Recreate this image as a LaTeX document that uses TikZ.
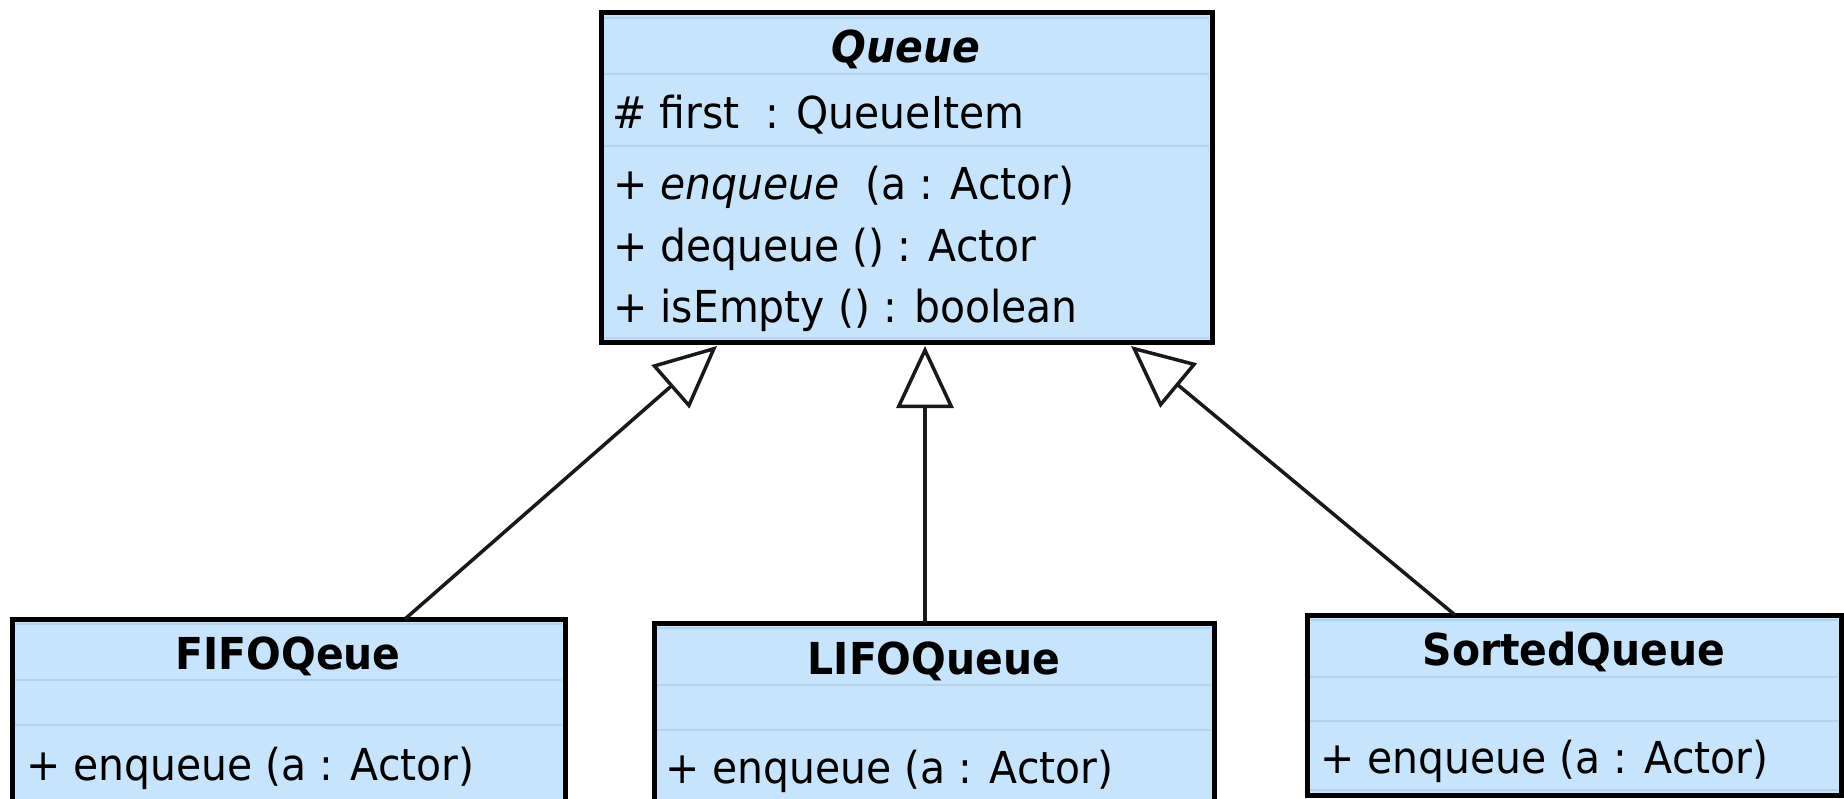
\documentclass[tikz,border=0pt]{standalone}
\usepackage{fontspec}
\setmainfont{DejaVu Sans}[FakeStretch=0.93]
\usetikzlibrary{arrows.meta,calc}
\definecolor{boxfill}{RGB}{200,228,252}
\definecolor{sepline}{RGB}{180,210,238}
\definecolor{linkcol}{RGB}{25,25,25}
\begin{document}
\begin{tikzpicture}[x=1pt,y=-1pt,
  umlbox/.style={draw=black, line width=5pt, fill=boxfill, inner sep=0pt, outer sep=0pt, anchor=north west},
  sepl/.style={draw=sepline, line width=2.5pt},
  classtitle/.style={font=\fontsize{44}{50}\selectfont\bfseries, anchor=base, inner sep=0pt},
  member/.style={font=\fontsize{44}{50}\selectfont, anchor=base west, inner sep=0pt},
  inherit/.style={draw=linkcol, line width=3.5pt, line join=miter,
    -{Triangle[length=62pt,width=57pt,fill=white,line width=3.5pt]}}
]
\useasboundingbox (0,0) rectangle (1844,799);
\clip (0,0) rectangle (1844,799);
\fill[white] (0,0) rectangle (1844,799);

% ---------- Queue ----------
\node[umlbox, minimum width=611pt, minimum height=330pt] (queue) at (601,13) {};
\draw[sepl] (604,18) -- (1209,18) (604,338) -- (1209,338);
\draw[sepl] (604,74) -- (1209,74);
\draw[sepl] (604,146) -- (1209,146);
\node[classtitle, font=\fontsize{44}{50}\selectfont\bfseries\itshape] (qname) at (906,63) {Queue};
\node[member] (qattr) at (612,129) {\# first~~: QueueItem};
\node[member] (qm1) at (613,200) {+ \textit{enqueue}~~(a : Actor)};
\node[member] (qm2) at (613,262) {+ dequeue () : Actor};
\node[member] (qm3) at (613,323) {+ isEmpty () : boolean};

% ---------- FIFOQeue ----------
\node[umlbox, minimum width=553pt, minimum height=200pt] (fifo) at (12,619) {};
\draw[sepl] (15,624) -- (562,624);
\draw[sepl] (15,680) -- (562,680);
\draw[sepl] (15,725) -- (562,725);
\node[classtitle] (fname) at (288,669) {FIFOQeue};
\node[member] (fm1) at (26,780) {+ enqueue (a : Actor)};

% ---------- LIFOQueue ----------
\node[umlbox, minimum width=560pt, minimum height=200pt] (lifo) at (654,623) {};
\draw[sepl] (657,628) -- (1211,628);
\draw[sepl] (657,685) -- (1211,685);
\draw[sepl] (657,730) -- (1211,730);
\node[classtitle] (lname) at (934,674) {LIFOQueue};
\node[member] (lm1) at (665,783) {+ enqueue (a : Actor)};

% ---------- SortedQueue ----------
\node[umlbox, minimum width=534pt, minimum height=180pt] (sorted) at (1307,615) {};
\draw[sepl] (1310,620) -- (1838,620) (1310,790) -- (1838,790);
\draw[sepl] (1310,677) -- (1838,677);
\draw[sepl] (1310,721) -- (1838,721);
\node[classtitle] (sname) at (1574,665) {SortedQueue};
\node[member] (sm1) at (1320,773) {+ enqueue (a : Actor)};

% ---------- generalisations ----------
\coordinate (qL) at ($(queue.south west)+(116,3)$);
\coordinate (qM) at ($(queue.south west)+(324,3)$);
\coordinate (qR) at ($(queue.south west)+(530,3)$);
\coordinate (fT) at ($(fifo.north west)+(393,0)$);
\coordinate (lT) at ($(lifo.north west)+(271,0)$);
\coordinate (sT) at ($(sorted.north west)+(148,0)$);
\draw[inherit] (fT) -- (qL);
\draw[inherit] (lT) -- (qM);
\draw[inherit] (sT) -- (qR);
\end{tikzpicture}
\end{document}
